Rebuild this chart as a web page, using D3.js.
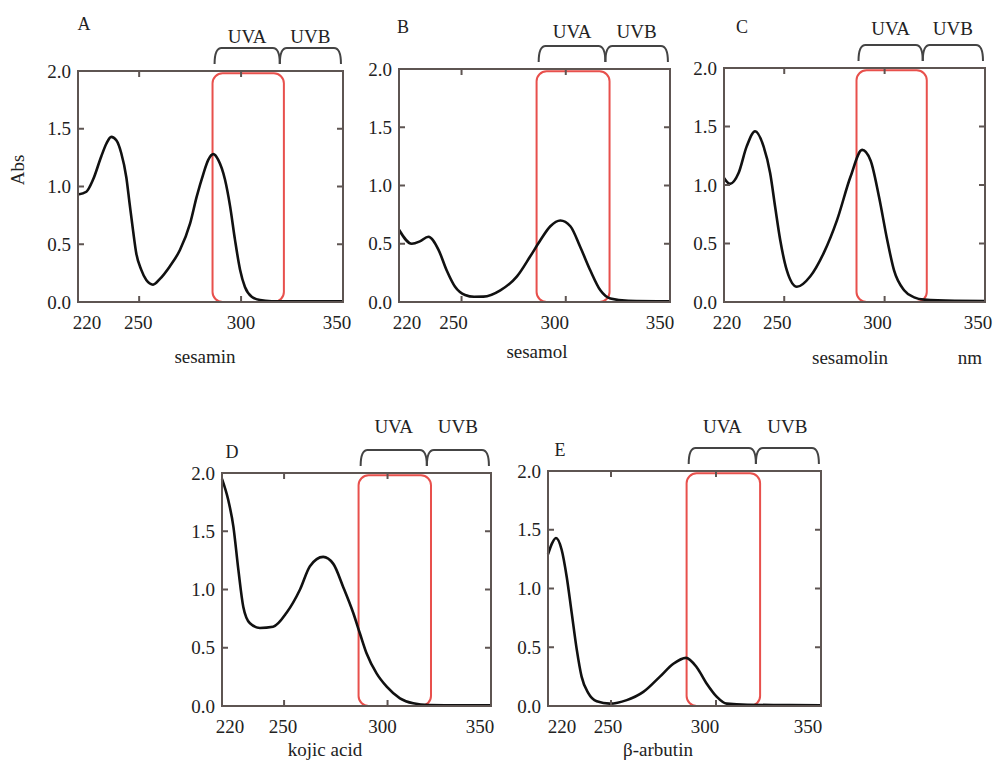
<!DOCTYPE html>
<html>
<head>
<meta charset="utf-8">
<script src="https://cdn.jsdelivr.net/npm/d3@7"></script>
<style>
  body { margin: 0; background: #fff; }
</style>
</head>
<body>
<svg id="chart" width="995" height="764" font-family="'Liberation Serif', 'Times New Roman', 'DejaVu Serif', serif"></svg>
<script>
// wavelength (nm) and absorbance
const sesaminNm  = [220, 224.1, 227.4, 231.4, 233.9, 236.3, 238.8, 241.2, 243.7, 245.3, 247, 248.6, 251, 253.5, 256.8, 260.2, 265.1, 270, 275, 278.2, 281.5, 283.9, 286.4, 288.8, 292.1, 294.6, 297, 299.5, 301.9, 305.2, 309.3, 315, 325, 350];
const sesaminAbs = [0.93, 0.955, 1.06, 1.26, 1.37, 1.43, 1.40, 1.29, 1.08, 0.855, 0.62, 0.42, 0.28, 0.19, 0.15, 0.2, 0.31, 0.45, 0.68, 0.91, 1.11, 1.23, 1.28, 1.23, 1.06, 0.83, 0.54, 0.28, 0.13, 0.046, 0.017, 0.007, 0.005, 0.005];

const sesamolNm  = [220, 226.1, 230, 234.1, 238.9, 242.9, 246.9, 251.7, 256, 260.5, 268.6, 276.6, 282.9, 287.8, 292.6, 297.4, 302.2, 307, 311.8, 316.6, 321.4, 330, 350];
const sesamolAbs = [0.62, 0.5, 0.52, 0.56, 0.45, 0.27, 0.13, 0.06, 0.045, 0.046, 0.1, 0.22, 0.39, 0.53, 0.65, 0.7, 0.65, 0.47, 0.27, 0.1, 0.03, 0.01, 0.005];

const sesamolinNm  = [220, 223, 227.2, 231.3, 235.5, 239.7, 243, 245.5, 248, 251.3, 256.3, 263, 269.7, 276.3, 283, 288.8, 293, 297.2, 301.3, 304.7, 309.7, 314.7, 319.7, 335, 350];
const sesamolinAbs = [1.06, 1.01, 1.1, 1.33, 1.46, 1.33, 1.1, 0.81, 0.53, 0.27, 0.13, 0.22, 0.42, 0.7, 1.07, 1.3, 1.21, 0.9, 0.53, 0.27, 0.1, 0.04, 0.02, 0.01, 0.008];

const kojicNm  = [220, 223, 225.5, 227.9, 230.3, 233.5, 238.3, 244.7, 251.2, 257.7, 262.5, 268.9, 273.8, 278.6, 283.4, 286.7, 289.9, 294.7, 299.6, 306, 312.4, 320, 335, 350];
const kojicAbs = [1.95, 1.77, 1.54, 1.17, 0.85, 0.71, 0.67, 0.68, 0.8, 1.0, 1.2, 1.28, 1.22, 1.02, 0.8, 0.62, 0.45, 0.28, 0.166, 0.066, 0.023, 0.008, 0.005, 0.005];

const arbutinNm  = [220, 221.8, 223.8, 226.5, 228.9, 231.3, 233.7, 236, 239.2, 243.2, 249.5, 257.5, 265.4, 273.3, 279.7, 285.7, 290.8, 295.6, 300.3, 305.1, 315, 335, 350];
const arbutinAbs = [1.29, 1.38, 1.43, 1.33, 1.1, 0.79, 0.48, 0.25, 0.11, 0.04, 0.02, 0.05, 0.12, 0.25, 0.36, 0.41, 0.33, 0.19, 0.08, 0.02, 0.01, 0.008, 0.006];

const xTicks = [220, 250, 300, 350];
const yTicks = [0, 0.5, 1.0, 1.5, 2.0];
const bandLabels = ["UVA", "UVB"];
const bandEdges = [287, 319, 349];   // brace ends, nm
const boxRange = [286, 321];         // red highlight, nm

const panels = [
  { letter: "A", name: "sesamin",    nm: sesaminNm,   abs: sesaminAbs,   left: 78,  right: 343, top: 71,  bottom: 302, letterX: 84,  letterY: 30,  bandY: 43,  nameX: 205, nameY: 363, tickShift: [9, -1, 0, -6] },
  { letter: "B", name: "sesamol",    nm: sesamolNm,   abs: sesamolAbs,   left: 399, right: 670, top: 69,  bottom: 302, letterX: 403, letterY: 33,  bandY: 38,  nameX: 537, nameY: 358, tickShift: [8, -8, -11, -10] },
  { letter: "C", name: "sesamolin",  nm: sesamolinNm, abs: sesamolinAbs, left: 724, right: 985, top: 68,  bottom: 302, letterX: 742, letterY: 33,  bandY: 35,  nameX: 850, nameY: 364, tickShift: [3, -7, -7, -7] },
  { letter: "D", name: "kojic acid", nm: kojicNm,     abs: kojicAbs,     left: 222, right: 491, top: 473, bottom: 706, letterX: 232, letterY: 458, bandY: 433, nameX: 325, nameY: 756, tickShift: [8, -1, -5, -11] },
  { letter: "E", name: "β-arbutin",  nm: arbutinNm,   abs: arbutinAbs,   left: 548, right: 821, top: 471, bottom: 706, letterX: 560, letterY: 456, bandY: 433, nameX: 658, nameY: 756, tickShift: [14, -3, -11, -13] }
];

const svg = d3.select("#chart");
const frameColor = "#5e5552";
const textColor = "#222";

panels.forEach(p => {
  const x = d3.scaleLinear().domain([220, 350]).range([p.left, p.right]);
  const y = d3.scaleLinear().domain([0, 2]).range([p.bottom, p.top]);
  const g = svg.append("g");

  // red highlight box
  g.append("rect")
    .attr("x", x(boxRange[0]))
    .attr("y", y(1.98))
    .attr("width", x(boxRange[1]) - x(boxRange[0]))
    .attr("height", y(0) - y(1.98))
    .attr("rx", 10)
    .attr("fill", "none")
    .attr("stroke", "#e8504c")
    .attr("stroke-width", 2);

  // spectrum
  const line = d3.line()
    .x(d => x(d[0]))
    .y(d => y(d[1]))
    .curve(d3.curveMonotoneX);
  g.append("path")
    .datum(d3.zip(p.nm, p.abs))
    .attr("fill", "none")
    .attr("stroke", "#111")
    .attr("stroke-width", 2.6)
    .attr("stroke-linejoin", "round")
    .attr("d", line);

  // frame
  g.append("rect")
    .attr("x", p.left).attr("y", p.top)
    .attr("width", p.right - p.left).attr("height", p.bottom - p.top)
    .attr("fill", "none")
    .attr("stroke", frameColor)
    .attr("stroke-width", 2);

  // inward ticks on all four sides
  const tickLen = 6;
  [250, 300].forEach(t => {
    g.append("line").attr("x1", x(t)).attr("x2", x(t)).attr("y1", p.top).attr("y2", p.top + tickLen)
      .attr("stroke", frameColor).attr("stroke-width", 2);
    g.append("line").attr("x1", x(t)).attr("x2", x(t)).attr("y1", p.bottom).attr("y2", p.bottom - tickLen)
      .attr("stroke", frameColor).attr("stroke-width", 2);
  });
  [0.5, 1.0, 1.5].forEach(t => {
    g.append("line").attr("x1", p.right).attr("x2", p.right - tickLen).attr("y1", y(t)).attr("y2", y(t))
      .attr("stroke", frameColor).attr("stroke-width", 2);
    g.append("line").attr("x1", p.left).attr("x2", p.left + tickLen).attr("y1", y(t)).attr("y2", y(t))
      .attr("stroke", frameColor).attr("stroke-width", 2);
  });

  // x tick labels
  g.selectAll(".xt")
    .data(xTicks)
    .enter()
    .append("text")
    .attr("x", (d, i) => x(d) + p.tickShift[i])
    .attr("y", p.bottom + 27)
    .attr("text-anchor", "middle")
    .attr("fill", textColor)
    .style("font-size", "19px")
    .text(d => d);

  // y tick labels
  g.selectAll(".yt")
    .data(yTicks)
    .enter()
    .append("text")
    .attr("x", p.left - 7)
    .attr("y", d => y(d))
    .attr("dy", "0.35em")
    .attr("text-anchor", "end")
    .attr("fill", textColor)
    .style("font-size", "19px")
    .text(d => d.toFixed(1));

  // braces for UVA / UVB
  const bTop = p.top - 23, bEnd = p.top - 7, r = 7;
  for (let i = 0; i < 2; i++) {
    const x0 = x(bandEdges[i]), x1 = x(bandEdges[i + 1]);
    g.append("path")
      .attr("d", `M${x0},${bEnd} Q${x0},${bTop} ${x0 + r},${bTop} L${x1 - r},${bTop} Q${x1},${bTop} ${x1},${bEnd}`)
      .attr("fill", "none")
      .attr("stroke", "#444")
      .attr("stroke-width", 2);
    g.append("text")
      .attr("x", (x0 + x1) / 2)
      .attr("y", p.bandY)
      .attr("text-anchor", "middle")
      .attr("fill", textColor)
      .style("font-size", "19px")
      .text(bandLabels[i]);
  }

  // panel letter and compound name
  g.append("text")
    .attr("x", p.letterX).attr("y", p.letterY)
    .attr("text-anchor", "middle")
    .attr("fill", textColor)
    .style("font-size", "18px")
    .text(p.letter);
  g.append("text")
    .attr("x", p.nameX).attr("y", p.nameY)
    .attr("text-anchor", "middle")
    .attr("fill", textColor)
    .style("font-size", "19px")
    .text(p.name);
});

// y axis title and unit
svg.append("text")
  .attr("transform", "translate(24,170) rotate(-90)")
  .attr("text-anchor", "middle")
  .attr("fill", textColor)
  .style("font-size", "19px")
  .text("Abs");

svg.append("text")
  .attr("x", 970).attr("y", 364)
  .attr("text-anchor", "middle")
  .attr("fill", textColor)
  .style("font-size", "19px")
  .text("nm");
</script>
</body>
</html>
